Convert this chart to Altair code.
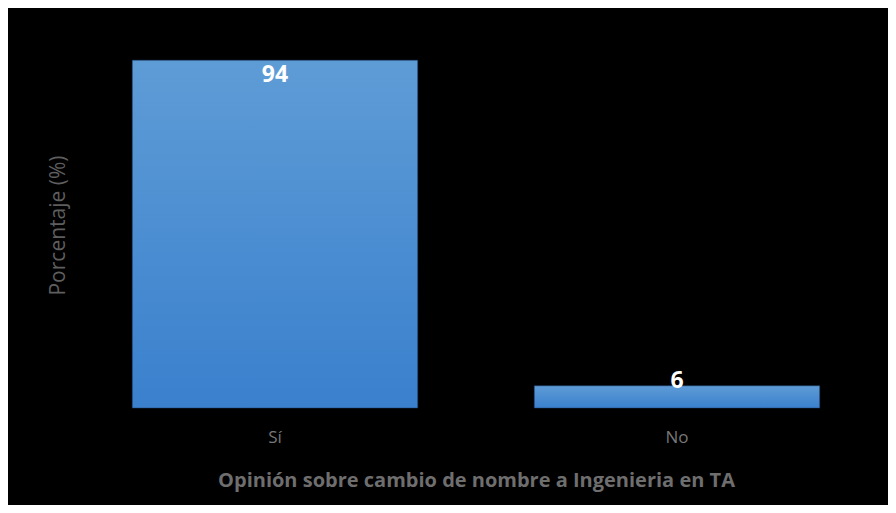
import altair as alt
import pandas as pd

categories = ["Sí", "No"]
values = [94, 6]

df = pd.DataFrame({"cat": categories, "val": values})

FONT = "Open Sans"
GRAY = "#777777"

xenc = alt.X(
    "cat:N",
    sort=categories,
    scale=alt.Scale(paddingInner=0.29, paddingOuter=0.145),
    axis=alt.Axis(
        title="Opinión sobre cambio de nombre a Ingenieria en TA",
        titleFont=FONT, titleFontSize=20, titleFontWeight="bold", titleColor="#6e6e6e",
        titleY=72, titleBaseline="middle",
        labelFont=FONT, labelFontSize=17, labelColor=GRAY, labelAngle=0,
        labelPadding=21, ticks=False, domain=False, grid=False,
    ),
)
yscale = alt.Scale(domain=[0, 100])

base = alt.Chart(df).encode(x=xenc)

bars = base.mark_bar(
    color=alt.Gradient(
        gradient="linear", x1=0, y1=0, x2=0, y2=1,
        stops=[alt.GradientStop(color="#5e9cd6", offset=0),
               alt.GradientStop(color="#3a80cd", offset=1)],
    ),
    stroke="#1f3f6f", strokeWidth=0.5,
).encode(
    y=alt.Y(
        "val:Q",
        scale=yscale,
        axis=alt.Axis(
            title="Porcentaje (%)",
            titleFont=FONT, titleFontSize=21, titleFontWeight="normal", titleColor="#5e5e5e",
            titleX=-16, titleY=187, titleAngle=270, titleAlign="center", titleBaseline="middle",
            labels=False, ticks=False, domain=False, grid=False,
        ),
    )
)

label_style = dict(font=FONT, fontSize=23, fontWeight="bold", color="white", baseline="middle")

labels_in = base.transform_filter("datum.val > 10").mark_text(dy=15, **label_style).encode(
    y=alt.Y("val:Q", scale=yscale), text=alt.Text("val:Q"),
)
labels_out = base.transform_filter("datum.val <= 10").mark_text(dy=-5, **label_style).encode(
    y=alt.Y("val:Q", scale=yscale), text=alt.Text("val:Q"),
)

chart = (bars + labels_in + labels_out).properties(
    width=804, height=370,
    background="black",
    padding={"left": 66, "top": 30, "right": 10, "bottom": 97},
    autosize=alt.AutoSizeParams(type="none"),
).configure_view(stroke=None)

chart.save("out.html", embed_options={"renderer": "svg", "actions": False})
